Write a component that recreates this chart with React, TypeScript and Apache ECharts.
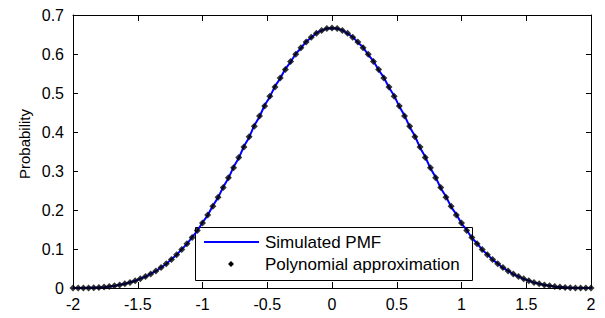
import React, { useEffect, useRef } from "react";
import * as echarts from "echarts";

const xValues = [
  -2.0, -1.96, -1.92, -1.88, -1.84, -1.8, -1.76, -1.72, -1.68, -1.64, -1.6, -1.56, -1.52, -1.48, -1.44, -1.4, -1.36,
  -1.32, -1.28, -1.24, -1.2, -1.16, -1.12, -1.08, -1.04, -1.0, -0.96, -0.92, -0.88, -0.84, -0.8, -0.76, -0.72, -0.68,
  -0.64, -0.6, -0.56, -0.52, -0.48, -0.44, -0.4, -0.36, -0.32, -0.28, -0.24, -0.2, -0.16, -0.12, -0.08, -0.04, 0.0,
  0.04, 0.08, 0.12, 0.16, 0.2, 0.24, 0.28, 0.32, 0.36, 0.4, 0.44, 0.48, 0.52, 0.56, 0.6, 0.64, 0.68, 0.72, 0.76, 0.8,
  0.84, 0.88, 0.92, 0.96, 1.0, 1.04, 1.08, 1.12, 1.16, 1.2, 1.24, 1.28, 1.32, 1.36, 1.4, 1.44, 1.48, 1.52, 1.56, 1.6,
  1.64, 1.68, 1.72, 1.76, 1.8, 1.84, 1.88, 1.92, 1.96, 2.0,
];

const simulatedPMF = [
  0.0, 0.0, 0.0001, 0.0004, 0.0006, 0.0014, 0.0022, 0.0039, 0.0053, 0.0081, 0.0104, 0.0146, 0.018, 0.0239, 0.0288,
  0.0366, 0.0431, 0.0531, 0.0615, 0.0741, 0.0846, 0.0997, 0.1127, 0.1307, 0.1466, 0.1679, 0.1863, 0.211, 0.2318,
  0.259, 0.2812, 0.3104, 0.3332, 0.3634, 0.3862, 0.4168, 0.4391, 0.4685, 0.4899, 0.5175, 0.5371, 0.562, 0.5793,
  0.6006, 0.6148, 0.6318, 0.6422, 0.6539, 0.6598, 0.6657, 0.6662,
  0.6655, 0.661, 0.6524, 0.644, 0.6297, 0.6171, 0.5981, 0.582, 0.5591, 0.5401, 0.5142, 0.4931, 0.4651, 0.4425,
  0.4131, 0.3897, 0.3598, 0.3366, 0.3069, 0.2843, 0.2558, 0.2345, 0.2081, 0.1889, 0.1652, 0.1489, 0.1284, 0.1149,
  0.0976, 0.0864, 0.0722, 0.0631, 0.0515, 0.0444, 0.0353, 0.0299, 0.0229, 0.0189, 0.0138, 0.011, 0.0075, 0.0057,
  0.0035, 0.0024, 0.0012, 0.0007, 0.0002, 0.0001, 0.0, 0.0,
];

const polynomialApprox = [
  0.0, 0.0, 0.0001, 0.0003, 0.0007, 0.0013, 0.0023, 0.0037, 0.0055, 0.0078, 0.0107, 0.0142, 0.0184, 0.0234, 0.0293,
  0.036, 0.0437, 0.0524, 0.0622, 0.0732, 0.0853, 0.0988, 0.1136, 0.1298, 0.1475, 0.1667, 0.1874, 0.2096, 0.233,
  0.2574, 0.2827, 0.3086, 0.3349, 0.3615, 0.3881, 0.4147, 0.4409, 0.4666, 0.4916, 0.5157, 0.5387, 0.5604, 0.5807,
  0.5992, 0.616, 0.6307, 0.6431, 0.6531, 0.6605, 0.6651, 0.6667,
  0.6651, 0.6605, 0.6531, 0.6431, 0.6307, 0.616, 0.5992, 0.5807, 0.5604, 0.5387, 0.5157, 0.4916, 0.4666, 0.4409,
  0.4147, 0.3881, 0.3615, 0.3349, 0.3086, 0.2827, 0.2574, 0.233, 0.2096, 0.1874, 0.1667, 0.1475, 0.1298, 0.1136,
  0.0988, 0.0853, 0.0732, 0.0622, 0.0524, 0.0437, 0.036, 0.0293, 0.0234, 0.0184, 0.0142, 0.0107, 0.0078, 0.0055,
  0.0037, 0.0023, 0.0013, 0.0007, 0.0003, 0.0001, 0.0, 0.0,
];

const seriesNames = ["Simulated PMF", "Polynomial approximation"];
const yAxisTitle = "Probability";

const FONT = "'Liberation Sans', Arial, Helvetica, sans-serif";

export default function App() {
  const ref = useRef<HTMLDivElement>(null);

  useEffect(() => {
    if (!ref.current) return;
    const chart = echarts.init(ref.current, undefined, { renderer: "svg" });

    const lineData = xValues.map((x, i) => [x, simulatedPMF[i]]);
    const dotData = xValues.map((x, i) => [x, polynomialApprox[i]]);

    const xAxisBase = {
      type: "value" as const,
      min: -2,
      max: 2,
      interval: 0.5,
      axisLine: { show: true, onZero: false, lineStyle: { color: "#000", width: 1 } },
      axisTick: { show: true, inside: true, length: 6, lineStyle: { color: "#000" } },
      splitLine: { show: false },
    };
    const yAxisBase = {
      type: "value" as const,
      min: 0,
      max: 0.7,
      interval: 0.1,
      axisLine: { show: true, onZero: false, lineStyle: { color: "#000", width: 1 } },
      axisTick: { show: true, inside: true, length: 5, lineStyle: { color: "#000" } },
      splitLine: { show: false },
    };

    chart.setOption({
      animation: false,
      backgroundColor: "#fff",
      textStyle: { fontFamily: FONT },
      grid: { left: 73, right: 14, top: 15, bottom: 30, containLabel: false },
      xAxis: [
        {
          ...xAxisBase,
          position: "bottom",
          axisLabel: { show: true, color: "#000", fontSize: 16, fontFamily: FONT, margin: 8 },
        },
        {
          ...xAxisBase,
          position: "top",
          axisLabel: { show: false },
        },
      ],
      yAxis: [
        {
          ...yAxisBase,
          position: "left",
          axisLabel: { show: true, color: "#000", fontSize: 16, fontFamily: FONT, margin: 9 },
        },
        {
          ...yAxisBase,
          position: "right",
          axisLabel: { show: false },
        },
      ],
      series: [
        {
          name: seriesNames[0],
          type: "line",
          xAxisIndex: 0,
          yAxisIndex: 0,
          data: lineData,
          showSymbol: false,
          symbol: "none",
          lineStyle: { color: "#0000ff", width: 2 },
          z: 2,
        },
        {
          name: seriesNames[1],
          type: "scatter",
          xAxisIndex: 0,
          yAxisIndex: 0,
          data: dotData,
          symbol: "diamond",
          symbolSize: 7,
          itemStyle: { color: "#000" },
          z: 3,
        },
      ],
      graphic: [
        {
          type: "text",
          x: 24,
          y: 144,
          rotation: Math.PI / 2,
          style: {
            text: yAxisTitle,
            fill: "#000",
            font: `15px ${FONT}`,
            align: "center",
            verticalAlign: "middle",
          },
        },
        {
          type: "group",
          z: 100,
          children: [
            {
              type: "rect",
              shape: { x: 195.5, y: 227.5, width: 277, height: 53 },
              style: { fill: "#fff", stroke: "#000", lineWidth: 1 },
            },
            {
              type: "line",
              shape: { x1: 204, y1: 242, x2: 259, y2: 242 },
              style: { stroke: "#0000ff", lineWidth: 2 },
            },
            {
              type: "text",
              x: 265,
              y: 242,
              style: {
                text: seriesNames[0],
                fill: "#000",
                font: `17px ${FONT}`,
                align: "left",
                verticalAlign: "middle",
              },
            },
            {
              type: "polygon",
              shape: {
                points: [
                  [231, 261],
                  [234, 264],
                  [231, 267],
                  [228, 264],
                ],
              },
              style: { fill: "#000" },
            },
            {
              type: "text",
              x: 265,
              y: 264,
              style: {
                text: seriesNames[1],
                fill: "#000",
                font: `17px ${FONT}`,
                align: "left",
                verticalAlign: "middle",
              },
            },
          ],
        },
      ],
    });

    return () => chart.dispose();
  }, []);

  return (
    <div
      ref={ref}
      style={{ position: "fixed", left: 0, top: 0, width: 605, height: 318, background: "#fff" }}
    />
  );
}
